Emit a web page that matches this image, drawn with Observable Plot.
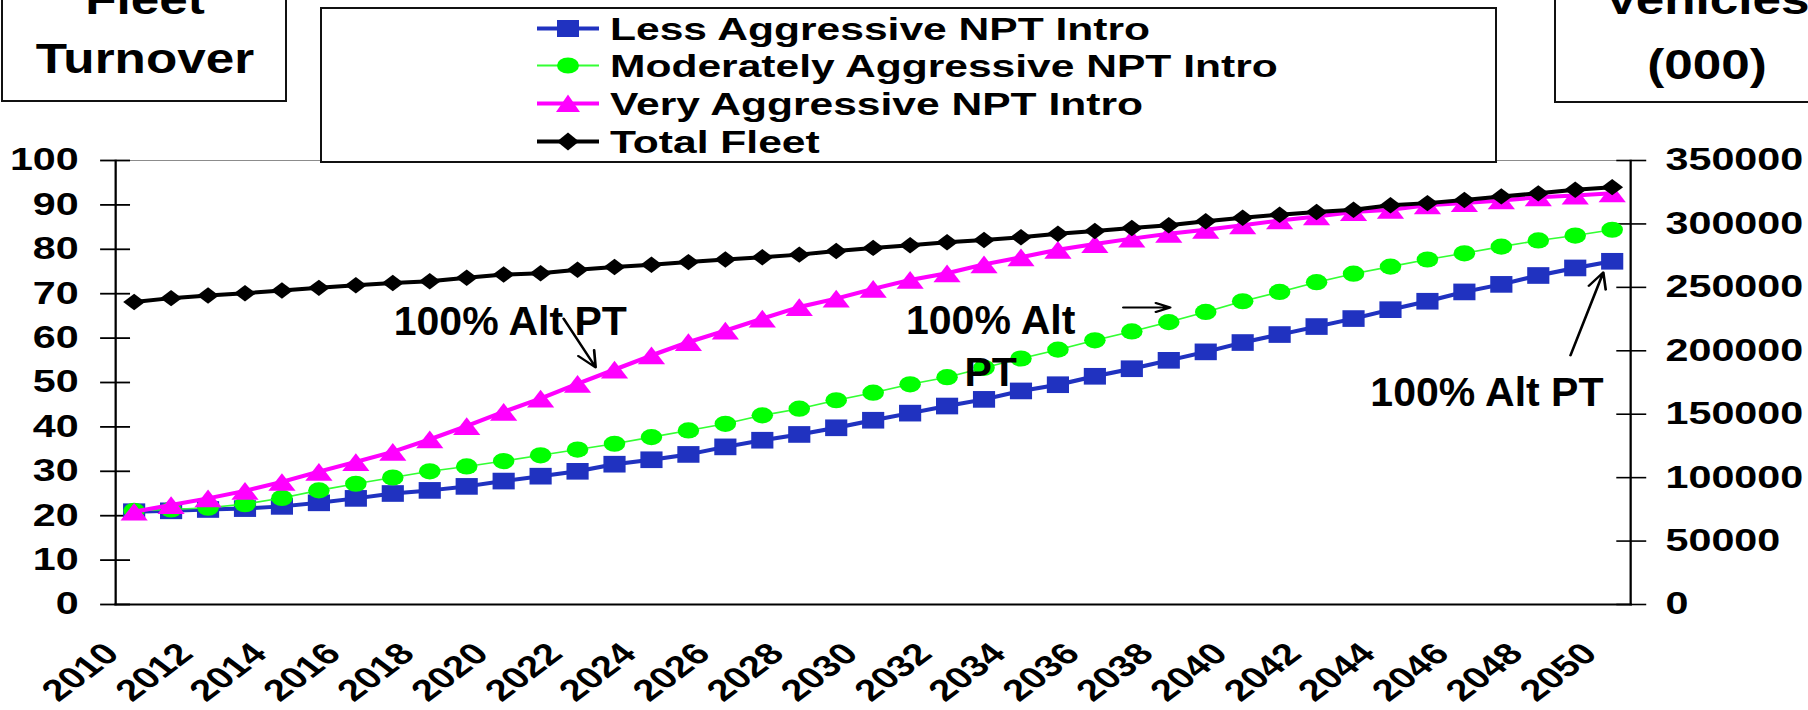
<!DOCTYPE html>
<html>
<head>
<meta charset="utf-8">
<script src="https://cdn.jsdelivr.net/npm/d3@7"></script>
<script src="https://cdn.jsdelivr.net/npm/@observablehq/plot@0.6"></script>
<style>
html, body { margin: 0; padding: 0; background: #fff; }
#wrap { position: relative; width: 1808px; height: 710px; overflow: hidden; background: #fff;
  font-family: "Liberation Sans", Arial, sans-serif; font-weight: bold; color: #000; }
#chart { position: absolute; left: 0; top: 0; z-index: 1; }
.box { position: absolute; box-sizing: border-box; border: 2.5px solid #111; background: #fff; z-index: 2; }
.txt { position: absolute; white-space: nowrap; z-index: 4; }
</style>
</head>
<body>
<div id="wrap"><div id="chart"></div></div>
<script>
// ---------------- DATA ----------------
const years = d3.range(2010, 2051);
const seriesNames = ["Less Aggressive NPT Intro", "Moderately Aggressive NPT Intro", "Very Aggressive NPT Intro", "Total Fleet"];
// Fleet turnover (%), left axis
const lessAggressive = [20.9, 21.1, 21.4, 21.6, 22.1, 22.9, 23.9, 25.0, 25.7, 26.6,
  27.8, 28.9, 30.0, 31.6, 32.6, 33.8, 35.5, 37.0, 38.3, 39.8,
  41.5, 43.1, 44.7, 46.2, 48.1, 49.5, 51.4, 53.1, 55.0, 56.9,
  59.0, 60.8, 62.6, 64.4, 66.4, 68.3, 70.4, 72.1, 74.1, 75.8, 77.3];
const moderatelyAggressive = [21.1, 21.4, 21.8, 22.6, 24.0, 25.7, 27.2, 28.6, 30.0, 31.1,
  32.3, 33.6, 34.9, 36.2, 37.7, 39.2, 40.7, 42.6, 44.1, 46.0,
  47.7, 49.6, 51.2, 53.3, 55.4, 57.4, 59.5, 61.5, 63.6, 65.9,
  68.3, 70.4, 72.6, 74.5, 76.1, 77.7, 79.1, 80.6, 82.0, 83.1, 84.4];
const veryAggressive = [20.9, 22.4, 23.9, 25.6, 27.6, 29.9, 32.1, 34.4, 37.2, 40.2,
  43.4, 46.4, 49.7, 52.9, 56.1, 59.1, 61.7, 64.4, 67.0, 68.9,
  71.1, 73.1, 74.6, 76.6, 78.2, 79.9, 81.2, 82.4, 83.5, 84.4,
  85.4, 86.5, 87.4, 88.4, 88.9, 89.9, 90.4, 91.0, 91.7, 92.1, 92.6];
// Total fleet, vehicles (000), right axis
const totalFleet = [238400, 241500, 243600, 245400, 247500, 249600, 251700, 253400, 254800, 257600,
  260100, 261100, 263900, 266000, 267800, 269900, 272000, 273700, 275800, 278600,
  281100, 283200, 285600, 287400, 289500, 292300, 294400, 296800, 298900, 302100,
  304900, 307300, 309400, 311200, 314700, 316400, 318900, 321700, 324100, 326900, 329000];
const leftTicks = d3.range(0, 101, 10);
const rightTicks = d3.range(0, 350001, 50000);
const xTickYears = d3.range(2010, 2051, 2);
const leftTitle = ["Fleet", "Turnover"];
const rightTitle = ["Vehicles", "(000)"];
// annotations (data units: year, left-axis value)
const annotationTexts = ["100% Alt PT", "100% Alt\nPT", "100% Alt PT"];
const annotationX = [2020.18, 2033.18, 2046.61];
const annotationY = [60.8, 49.3, 44.8];
const arrowX1 = [2021.62, 2036.77, 2048.87];
const arrowY1 = [64.4, 66.9, 56.1];
const arrowX2 = [2022.49, 2038.04, 2049.76];
const arrowY2 = [53.4, 66.9, 74.8];

// ---------------- STYLE / LAYOUT ----------------
const colors = ["#2032c0", "#00ff00", "#ff00ff", "#000000"];
const lineColors = ["#2032c0", "#33ff33", "#ff00ff", "#000000"];
const FULL_W = 1808, H = 710, SX = 1.3304, W = FULL_W / SX;
const K = 350000 / 100; // right-axis units per left-axis unit

const rows = years.map((year, i) => ({
  year,
  less: lessAggressive[i],
  moderate: moderatelyAggressive[i],
  very: veryAggressive[i],
  total: totalFleet[i] / K
}));
const annotations = annotationTexts.map((text, i) => ({text, x: annotationX[i], y: annotationY[i]}));
const arrows = arrowX1.map((x1, i) => ({x1, y1: arrowY1[i], x2: arrowX2[i], y2: arrowY2[i]}));

const fontFamily = "'Liberation Sans', Arial, sans-serif";

const svg = Plot.plot({
  width: W,
  height: H,
  marginLeft: 115 / SX,
  marginRight: W - 1630 / SX,
  marginTop: 160,
  marginBottom: 106,
  x: {domain: [2009.5, 2050.5], label: null, axis: null},
  y: {domain: [0, 100], label: null},
  style: {fontFamily, fontWeight: "bold", color: "#000", background: "transparent", overflow: "visible"},
  marks: [
    Plot.frame({anchor: "top", stroke: "#8c8c8c", strokeWidth: 1}),
    Plot.axisY({ticks: leftTicks, tickFormat: d => String(d), tickSize: 22.5, dx: 11.3, tickPadding: 16.6,
      strokeWidth: 1.8, fontSize: 31, fontWeight: "bold"}),
    Plot.axisY({anchor: "right", ticks: rightTicks.map(v => v / K), tickFormat: d => String(Math.round(d * K)),
      tickSize: 22.5, dx: -11.3, tickPadding: 15, strokeWidth: 1.6, fontSize: 31, fontWeight: "bold"}),
    // x tick labels (every other year), rotated
    Plot.text(xTickYears, {x: d => d, text: d => String(d), frameAnchor: "bottom", rotate: -45,
      textAnchor: "end", lineAnchor: "top", dx: -25, dy: 36, fontSize: 30, fontWeight: "bold", fill: "#000"}),
    Plot.frame({anchor: "left", stroke: "#000", strokeWidth: 1.7}),
    Plot.frame({anchor: "right", stroke: "#000", strokeWidth: 1.7}),
    Plot.frame({anchor: "bottom", stroke: "#000", strokeWidth: 2}),

    Plot.line(rows, {x: "year", y: "less", stroke: lineColors[0], strokeWidth: 4}),
    Plot.dot(rows, {x: "year", y: "less", symbol: "square", r: 9.4, fill: colors[0], stroke: null}),
    Plot.line(rows, {x: "year", y: "moderate", stroke: lineColors[1], strokeWidth: 1.6}),
    Plot.dot(rows, {x: "year", y: "moderate", symbol: "circle", r: 8.1, fill: colors[1], stroke: null}),
    Plot.line(rows, {x: "year", y: "very", stroke: lineColors[2], strokeWidth: 4}),
    Plot.dot(rows, {x: "year", y: "very", symbol: "triangle", r: 7.6, dy: 3, fill: colors[2], stroke: null}),
    Plot.line(rows, {x: "year", y: "total", stroke: lineColors[3], strokeWidth: 4}),
    Plot.dot(rows, {x: "year", y: "total", symbol: "diamond2", r: 7.4, fill: colors[3], stroke: null}),

    Plot.arrow(arrows, {x1: "x1", y1: "y1", x2: "x2", y2: "y2", stroke: "#000", strokeWidth: 2, headLength: 13, headAngle: 45}),
    Plot.text(annotations, {x: "x", y: "y", text: "text", textAnchor: "middle", lineAnchor: "bottom",
      lineHeight: 1.27, fontSize: 41, fontWeight: "bold", fill: "#000"})
  ]
});

svg.setAttribute("width", FULL_W);
svg.setAttribute("height", H);
svg.setAttribute("preserveAspectRatio", "none");
svg.style.width = FULL_W + "px";
svg.style.height = H + "px";
svg.style.maxWidth = "none";
document.getElementById("chart").appendChild(svg);

// annotation text is not horizontally stretched in the original: counter-scale it
const annotationContents = new Set(annotationTexts.map(s => s.replace(/\n/g, "")));
svg.querySelectorAll("text").forEach(t => {
  if (annotationContents.has(t.textContent)) {
    const tr = t.getAttribute("transform") || "";
    t.setAttribute("transform", tr + ` scale(${1 / SX},1)`);
  }
});

// ---------------- OVERLAYS (boxes, legend) ----------------
const wrap = document.getElementById("wrap");
function addBox(left, top, width, height) {
  const b = document.createElement("div");
  b.className = "box";
  Object.assign(b.style, {left: left + "px", top: top + "px", width: width + "px", height: height + "px"});
  wrap.appendChild(b);
}
function addText(str, {left, width, baseline, size, stretch, align = "center"}) {
  const d = document.createElement("div");
  d.className = "txt";
  d.textContent = str;
  Object.assign(d.style, {
    left: left + "px", width: width + "px", top: (baseline - 0.8465 * size) + "px",
    fontSize: size + "px", lineHeight: size + "px", textAlign: align,
    transform: `scaleX(${stretch})`, transformOrigin: align === "center" ? "50% 50%" : "0 50%"
  });
  wrap.appendChild(d);
}

// left title box
addBox(1, -60, 286, 162);
addText(leftTitle[0], {left: 0, width: 290, baseline: 15, size: 42, stretch: 1.22});
addText(leftTitle[1], {left: 0, width: 290, baseline: 74, size: 42, stretch: 1.22});
// right title box
addBox(1554, -60, 320, 163);
addText(rightTitle[0], {left: 1557, width: 300, baseline: 15, size: 42, stretch: 1.22});
addText(rightTitle[1], {left: 1557, width: 300, baseline: 80, size: 42, stretch: 1.22});

// legend
addBox(320, 7, 1177, 156);
const legendBaselines = [40, 77, 115, 153];
seriesNames.forEach((name, i) => {
  addText(name, {left: 610, width: 800, baseline: legendBaselines[i], size: 32, stretch: 1.33, align: "left"});
});
const ns = "http://www.w3.org/2000/svg";
const lg = document.createElementNS(ns, "svg");
lg.setAttribute("width", FULL_W); lg.setAttribute("height", 170);
Object.assign(lg.style, {position: "absolute", left: "0px", top: "0px", zIndex: 3});
wrap.appendChild(lg);
function el(tag, attrs) {
  const e = document.createElementNS(ns, tag);
  for (const k in attrs) e.setAttribute(k, attrs[k]);
  lg.appendChild(e);
  return e;
}
const lineWidths = [4, 2, 4, 4];
legendBaselines.forEach((b, i) => {
  const cy = b - 11.5, cx = 568;
  el("line", {x1: 537, x2: 599, y1: cy, y2: cy, stroke: lineColors[i], "stroke-width": lineWidths[i]});
  if (i === 0) el("rect", {x: cx - 11, y: cy - 8.5, width: 22, height: 17, fill: colors[0]});
  if (i === 1) el("ellipse", {cx, cy, rx: 11, ry: 8, fill: colors[1]});
  if (i === 2) el("polygon", {points: `${cx - 12},${cy + 8.5} ${cx + 12},${cy + 8.5} ${cx},${cy - 9}`, fill: colors[2]});
  if (i === 3) el("polygon", {points: `${cx - 11},${cy} ${cx},${cy - 9} ${cx + 11},${cy} ${cx},${cy + 9}`, fill: colors[3]});
});
</script>
</body>
</html>
